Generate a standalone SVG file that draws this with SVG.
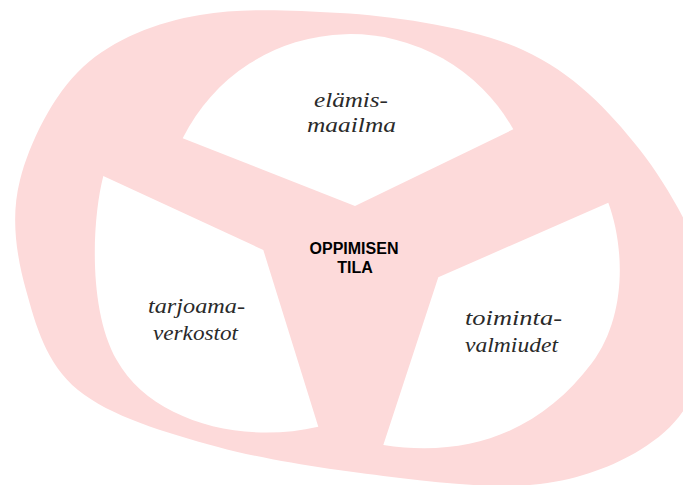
<svg xmlns="http://www.w3.org/2000/svg" width="683" height="485" viewBox="0 0 683 485">
<style>
.blob{fill:#fddada;stroke:none}
.cut{fill:#ffffff;stroke:none}
.hand{font-family:"Liberation Serif","DejaVu Serif",serif;font-style:italic;font-size:20px;fill:#2a2a2a;text-anchor:middle}
.core{font-family:"Liberation Sans",Arial,sans-serif;font-weight:bold;font-size:16px;fill:#000;text-anchor:middle}
</style>
<rect width="683" height="485" fill="#ffffff"/>
<g id="space">
<path class="blob" d="M 340 13 C 393.8 16, 473 27.2, 523 50 C 573 72.8, 608.5 110, 640 150 C 671.5 190, 702.8 250, 712 290 C 721.2 330, 707 363.3, 695 390 C 683 416.7, 665.8 434.3, 640 450 C 614.2 465.7, 580 479.3, 540 484 C 500 488.7, 453.7 484.2, 400 478 C 346.3 471.8, 271.7 461.7, 218 447 C 164.3 432.3, 110 416.2, 78 390 C 46 363.8, 35.7 325, 26 290 C 16.3 255, 10.5 217.2, 20 180 C 29.5 142.8, 53 94.7, 83 67 C 113 39.3, 157.2 22, 200 15 C 242.8 8, 286.2 10, 340 13 Z"/>
</g>
<g id="elamismaailma">
<path class="cut" d="M 182.7 138.3 A 187 187 0 0 1 513.3 129.3 L 355 206 Z"/>
<text class="hand" x="351" y="107" textLength="74" lengthAdjust="spacingAndGlyphs">elämis-</text>
<text class="hand" x="351.5" y="132" textLength="89" lengthAdjust="spacingAndGlyphs">maailma</text>
</g>
<g id="tarjoamaverkostot">
<path class="cut" d="M 103.3 176 C 92 220, 88 310, 116.7 360 C 150 420, 240 445, 318.3 426.7 L 263.3 250 Z"/>
<text class="hand" x="196.5" y="313" textLength="97" lengthAdjust="spacingAndGlyphs">tarjoama-</text>
<text class="hand" x="195.5" y="340" textLength="85" lengthAdjust="spacingAndGlyphs">verkostot</text>
</g>
<g id="toimintavalmiudet">
<path class="cut" d="M 608.3 202.7 C 624 245, 628 315, 591.7 363.3 C 543.7 427.3, 473.3 459, 383.3 445 L 438.3 277.3 Z"/>
<text class="hand" x="513.5" y="325" textLength="97" lengthAdjust="spacingAndGlyphs">toiminta-</text>
<text class="hand" x="511.5" y="352" textLength="93" lengthAdjust="spacingAndGlyphs">valmiudet</text>
</g>
<g id="oppimisen-tila">
<text class="core" x="354" y="254">OPPIMISEN</text>
<text class="core" x="355" y="273">TILA</text>
</g>
<g id="connectors"></g>
</svg>
